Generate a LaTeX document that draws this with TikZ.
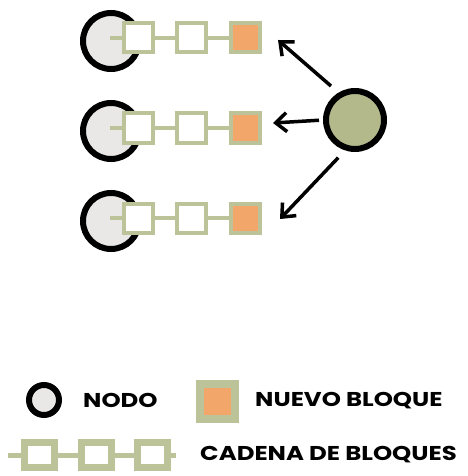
\documentclass[tikz,border=0pt]{standalone}
\usepackage{fontspec}
\setmainfont{Poppins}[FakeStretch=1.22]
\usetikzlibrary{arrows.meta}
\definecolor{nodogris}{HTML}{EAE8E6}
\definecolor{salvia}{HTML}{BDC398}
\definecolor{naranja}{HTML}{F2A66A}
\definecolor{oliva}{HTML}{B3B98A}
\tikzset{%
    nodo/.style={circle,draw=black,line width=6pt,fill=nodogris,minimum size=56pt,inner sep=0pt},
    bloque/.style={draw=salvia,line width=4pt,fill=white,minimum size=29pt,inner sep=0pt},
    nuevo/.style={bloque,fill=naranja},
    enlace/.style={draw=salvia,line width=4pt},
    hub/.style={circle,draw=black,line width=6pt,fill=oliva,minimum size=56pt,inner sep=0pt},
    flecha/.style={line width=3.5pt,-{Straight Barb[length=11pt,width=19pt,line width=3.5pt]}},
    rotulo/.style={anchor=west,inner sep=0pt,font=\bfseries\fontsize{20}{22}\selectfont}
}
\begin{document}
\begin{tikzpicture}[x=1pt,y=-1pt]
        \useasboundingbox (0,0) rectangle (467,476);

        % cadenas
        \node[nodo] (n1) at (111,41){};
        \coordinate (c1) at (110,38);
        \node[bloque] (a1) at (138,38){};
        \node[bloque] (b1) at (191,38){};
        \node[nuevo] (m1) at (245,38){};

        \node[nodo] (n2) at (111,131){};
        \coordinate (c2) at (110,128);
        \node[bloque] (a2) at (138,128){};
        \node[bloque] (b2) at (191,128){};
        \node[nuevo] (m2) at (245,128){};

        \node[nodo] (n3) at (111,221){};
        \coordinate (c3) at (110,218);
        \node[bloque] (a3) at (138,218){};
        \node[bloque] (b3) at (191,218){};
        \node[nuevo] (m3) at (245,218){};

        \draw[enlace] (c1) -- (a1) -- (b1) -- (m1);
        \draw[enlace] (c2) -- (a2) -- (b2) -- (m2);
        \draw[enlace] (c3) -- (a3) -- (b3) -- (m3);
        \node[bloque] at (a1){};
        \node[bloque] at (b1){};
        \node[nuevo] at (m1){};
        \node[bloque] at (a2){};
        \node[bloque] at (b2){};
        \node[nuevo] at (m2){};
        \node[bloque] at (a3){};
        \node[bloque] at (b3){};
        \node[nuevo] at (m3){};

        % nodo que difunde el bloque
        \node[hub,minimum size=58pt] (h) at (355,120){};
        \coordinate (t1) at (278,40);
        \coordinate (t2) at (273,123);
        \coordinate (t3) at (280,219);
        \draw[flecha,shorten <=10pt] (h.121) -- (t1);
        \draw[flecha,shorten <=4pt] (h.180) -- (t2);
        \draw[flecha,shorten <=10pt] (h.252) -- (t3);

        % leyenda
        \node[nodo,minimum size=30pt] (ln) at (44,400){};
        \node[rotulo] (tn) at (83,400){NODO};
        \node[bloque,fill=naranja,line width=8pt,minimum size=35pt] (lb) at (217,401){};
        \node[rotulo] (tb) at (255,401){NUEVO BLOQUE};
        \coordinate (l0) at (8,455);
        \coordinate (l4) at (176,455);
        \node[bloque,line width=7pt,minimum width=30pt,minimum height=25pt] (l1) at (39,455){};
        \node[bloque,line width=7pt,minimum width=30pt,minimum height=25pt] (l2) at (96,455){};
        \node[bloque,line width=7pt,minimum width=30pt,minimum height=25pt] (l3) at (152,455){};
        \draw[enlace,line width=5pt] (l0) -- (l1) -- (l2) -- (l3) -- (l4);
        \node[bloque,line width=7pt,minimum width=30pt,minimum height=25pt] at (l1){};
        \node[bloque,line width=7pt,minimum width=30pt,minimum height=25pt] at (l2){};
        \node[bloque,line width=7pt,minimum width=30pt,minimum height=25pt] at (l3){};
        \node[rotulo] (tc) at (200,455){CADENA DE BLOQUES};
    \end{tikzpicture}
\end{document}
